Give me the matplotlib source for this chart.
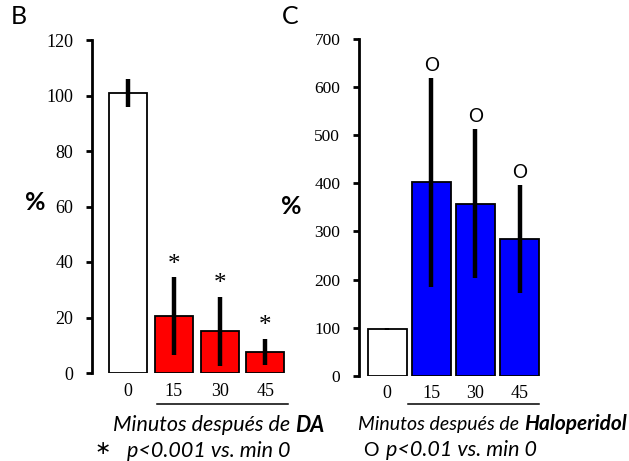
import numpy as np
import matplotlib
matplotlib.use("Agg")
import matplotlib.pyplot as plt
from matplotlib.lines import Line2D

# datos panel B (DA)
minutos = ["0", "15", "30", "45"]
da_media = [101, 20.5, 15, 7.7]
da_err = [5, 14, 12.5, 4.7]
# datos panel C (Haloperidol)
halo_media = [98, 402, 358, 284]
halo_err = [2, 217, 155, 113]

W, H = 629, 461
serif = "Liberation Serif"
sans = "Lato"

def fx(x):
    return x / W

def fy(y):
    return 1 - y / H

fig = plt.figure(figsize=(6.29, 4.61), dpi=100)

def panel(left, top, bottom, right, ylim, yticks, xlim, medias, errs, colores, width, lw_spine):
    ax = fig.add_axes([fx(left), fy(bottom), fx(right) - fx(left), fy(top) - fy(bottom)])
    x = np.arange(len(medias))
    ax.bar(x, medias, width=width, color=colores, edgecolor="black", linewidth=1.3, zorder=2)
    ax.errorbar(x, medias, yerr=errs, fmt="none", ecolor="black", elinewidth=3.2, capsize=0, zorder=3)
    ax.set_xlim(*xlim)
    ax.set_ylim(*ylim)
    ax.set_yticks(yticks)
    ax.set_xticks(x, minutos)
    for s in ["top", "right", "bottom"]:
        ax.spines[s].set_visible(False)
    ax.spines["left"].set_linewidth(lw_spine)
    ax.tick_params(axis="y", length=4.5, width=2, pad=9)
    ax.tick_params(axis="x", length=0, pad=7)
    for t in ax.get_yticklabels() + ax.get_xticklabels():
        t.set_fontfamily(serif)
        t.set_fontsize(13)
    ax.patch.set_alpha(0)
    return ax

axB = panel(92, 40, 373, 291, (0, 120), range(0, 121, 20), (-0.79, 3.56),
            da_media, da_err, ["white", "red", "red", "red"], 0.83, 2.0)
axC = panel(359, 39, 375.7, 546, (0, 700), range(0, 701, 100), (-0.64, 3.6),
            halo_media, halo_err, ["white", "blue", "blue", "blue"], 0.89, 2.0)
for t in axC.get_yticklabels():
    t.set_fontsize(12.5)

# marcas de significancia
for i in range(1, 4):
    axB.annotate("*", (i, da_media[i] + da_err[i]), xytext=(0, 1), textcoords="offset points",
                 ha="center", va="bottom", fontsize=18, fontfamily=serif)
    axC.annotate("O", (i, halo_media[i] + halo_err[i]), xytext=(0, 3), textcoords="offset points",
                 ha="center", va="bottom", fontsize=13.5, fontfamily=sans)

# lineas bajo 15-45
fig.add_artist(Line2D([fx(157), fx(288)], [fy(404), fy(404)], color="black", lw=1.1))
fig.add_artist(Line2D([fx(408), fx(539)], [fy(404), fy(404)], color="black", lw=1.1))

# letras de panel y etiquetas %
fig.text(fx(11), fy(17), "B", fontsize=18, fontfamily=sans, va="center", ha="left")
fig.text(fx(282), fy(17), "C", fontsize=18, fontfamily=sans, va="center", ha="left")
fig.text(fx(35), fy(203), "%", fontsize=18, fontweight="bold", fontfamily=sans, va="center", ha="center")
fig.text(fx(291), fy(206), "%", fontsize=18, fontweight="bold", fontfamily=sans, va="center", ha="center")

# titulos de eje x
fig.text(fx(295), fy(425), "Minutos después de ", fontsize=15.5, style="italic", fontfamily=sans,
         va="center", ha="right")
fig.text(fx(295), fy(425), "DA", fontsize=15.5, style="italic", fontweight="bold", fontfamily=sans,
         va="center", ha="left")
fig.text(fx(524), fy(424), "Minutos después de ", fontsize=14, style="italic", fontfamily=sans,
         va="center", ha="right")
fig.text(fx(524), fy(424), "Haloperidol", fontsize=15, style="italic", fontweight="bold",
         fontfamily=sans, va="center", ha="left")

# notas
fig.text(fx(103), fy(448), "\u2217", fontsize=14, fontfamily="DejaVu Sans",
         va="center", ha="center")
fig.text(fx(127), fy(451), "p<0.001 vs. min 0", fontsize=15.5, style="italic", fontfamily=sans,
         va="center", ha="left")
fig.text(fx(371), fy(450), "O", fontsize=14, fontfamily=sans, va="center", ha="center")
fig.text(fx(386), fy(450), "p<0.01 vs. min 0", fontsize=15.5, style="italic", fontfamily=sans,
         va="center", ha="left")

fig.savefig("out.png", dpi=100)
